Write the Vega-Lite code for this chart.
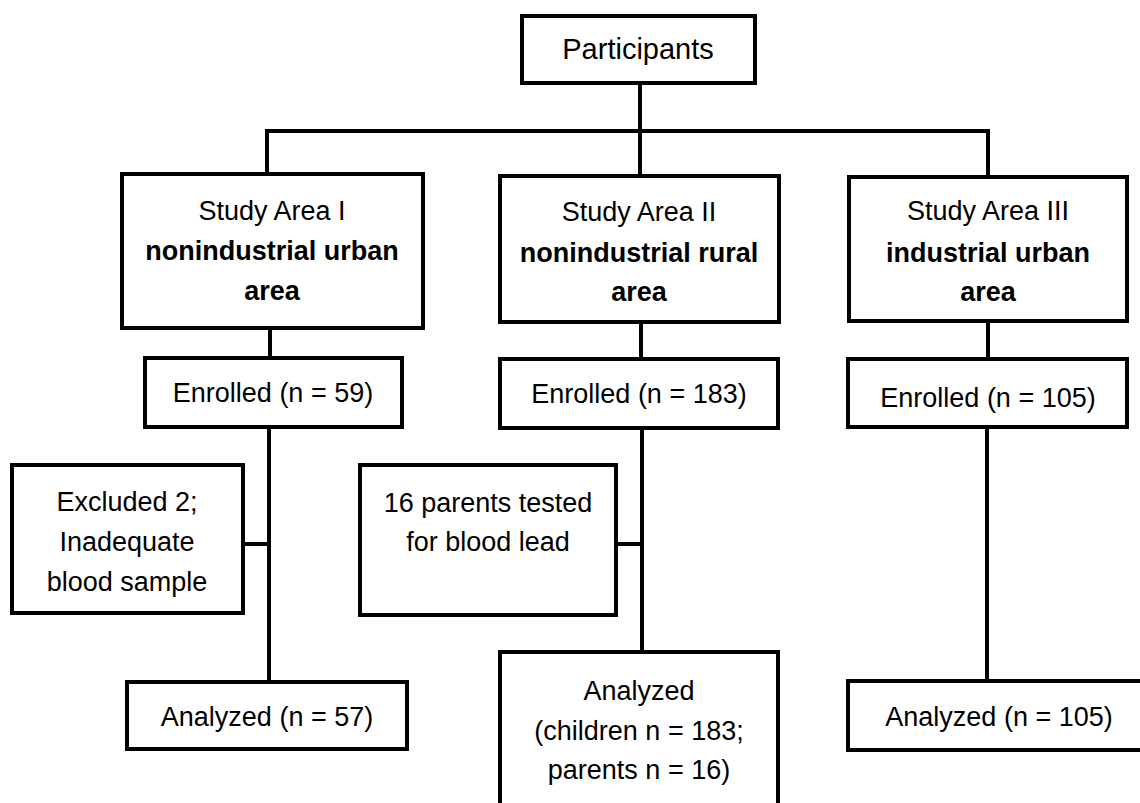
{
  "$schema": "https://vega.github.io/schema/vega-lite/v6.json",
  "width": 1140,
  "height": 803,
  "padding": 0,
  "autosize": {"type": "none"},
  "background": "white",
  "config": {"view": {"stroke": null}},
  "datasets": {
    "boxes": [
      {"name": "Participants", "x1": 522, "x2": 755, "y1": 16, "y2": 83},
      {"name": "Study I", "x1": 122, "x2": 423, "y1": 174, "y2": 328},
      {"name": "Study II", "x1": 500, "x2": 779, "y1": 176, "y2": 322},
      {"name": "Study III", "x1": 849, "x2": 1127, "y1": 177, "y2": 321},
      {"name": "Enrolled I", "x1": 145, "x2": 402, "y1": 358, "y2": 427},
      {"name": "Enrolled II", "x1": 500, "x2": 778, "y1": 359, "y2": 428},
      {"name": "Enrolled III", "x1": 848, "x2": 1127, "y1": 359, "y2": 427},
      {"name": "Excluded", "x1": 12, "x2": 243, "y1": 465, "y2": 613},
      {"name": "Parents", "x1": 360, "x2": 616, "y1": 465, "y2": 615},
      {"name": "Analyzed I", "x1": 127, "x2": 407, "y1": 682, "y2": 749},
      {"name": "Analyzed II", "x1": 500, "x2": 778, "y1": 652, "y2": 820},
      {"name": "Analyzed III", "x1": 848, "x2": 1150, "y1": 681, "y2": 750}
    ],
    "links": [
      {"x1": 640, "x2": 640, "y1": 83, "y2": 131},
      {"x1": 267, "x2": 988, "y1": 131, "y2": 131},
      {"x1": 267, "x2": 267, "y1": 131, "y2": 174},
      {"x1": 640, "x2": 640, "y1": 131, "y2": 176},
      {"x1": 988, "x2": 988, "y1": 131, "y2": 177},
      {"x1": 270, "x2": 270, "y1": 328, "y2": 358},
      {"x1": 269, "x2": 269, "y1": 427, "y2": 682},
      {"x1": 243, "x2": 269, "y1": 544, "y2": 544},
      {"x1": 641, "x2": 641, "y1": 322, "y2": 359},
      {"x1": 642, "x2": 642, "y1": 428, "y2": 652},
      {"x1": 616, "x2": 642, "y1": 544, "y2": 544},
      {"x1": 988, "x2": 988, "y1": 321, "y2": 359},
      {"x1": 987, "x2": 987, "y1": 427, "y2": 681}
    ],
    "labels": [
      {"label": "Participants", "x": 638, "y": 50, "bold": false, "big": true},
      {"label": "Study Area I", "x": 272, "y": 212, "bold": false, "big": false},
      {"label": "nonindustrial urban", "x": 272, "y": 252, "bold": true, "big": false},
      {"label": "area", "x": 272, "y": 292, "bold": true, "big": false},
      {"label": "Study Area II", "x": 639, "y": 213, "bold": false, "big": false},
      {"label": "nonindustrial rural", "x": 639, "y": 254, "bold": true, "big": false},
      {"label": "area", "x": 639, "y": 293, "bold": true, "big": false},
      {"label": "Study Area III", "x": 988, "y": 212, "bold": false, "big": false},
      {"label": "industrial urban", "x": 988, "y": 254, "bold": true, "big": false},
      {"label": "area", "x": 988, "y": 293, "bold": true, "big": false},
      {"label": "Enrolled (n = 59)", "x": 273, "y": 394, "bold": false, "big": false},
      {"label": "Enrolled (n = 183)", "x": 639, "y": 395, "bold": false, "big": false},
      {"label": "Enrolled (n = 105)", "x": 988, "y": 399, "bold": false, "big": false},
      {"label": "Excluded 2;", "x": 127, "y": 503, "bold": false, "big": false},
      {"label": "Inadequate", "x": 127, "y": 543, "bold": false, "big": false},
      {"label": "blood sample", "x": 127, "y": 583, "bold": false, "big": false},
      {"label": "16 parents tested", "x": 488, "y": 504, "bold": false, "big": false},
      {"label": "for blood lead", "x": 488, "y": 543, "bold": false, "big": false},
      {"label": "Analyzed (n = 57)", "x": 267, "y": 718, "bold": false, "big": false},
      {"label": "Analyzed", "x": 639, "y": 692, "bold": false, "big": false},
      {"label": "(children n = 183;", "x": 639, "y": 732, "bold": false, "big": false},
      {"label": "parents n = 16)", "x": 639, "y": 771, "bold": false, "big": false},
      {"label": "Analyzed (n = 105)", "x": 999, "y": 718, "bold": false, "big": false}
    ]
  },
  "layer": [
    {
      "data": {"name": "boxes"},
      "mark": {"type": "rect", "fill": "white", "stroke": "black", "strokeWidth": 4, "clip": true},
      "encoding": {
        "x": {"field": "x1", "type": "quantitative", "scale": {"domain": [0, 1140], "nice": false, "zero": false}, "axis": null},
        "x2": {"field": "x2"},
        "y": {"field": "y1", "type": "quantitative", "scale": {"domain": [0, 803], "nice": false, "zero": false, "reverse": true}, "axis": null},
        "y2": {"field": "y2"}
      }
    },
    {
      "data": {"name": "links"},
      "mark": {"type": "rule", "stroke": "black", "strokeWidth": 4, "strokeCap": "square"},
      "encoding": {
        "x": {"field": "x1", "type": "quantitative", "scale": {"domain": [0, 1140], "nice": false, "zero": false}, "axis": null},
        "x2": {"field": "x2"},
        "y": {"field": "y1", "type": "quantitative", "scale": {"domain": [0, 803], "nice": false, "zero": false, "reverse": true}, "axis": null},
        "y2": {"field": "y2"}
      }
    },
    {
      "data": {"name": "labels"},
      "transform": [{"filter": "!datum.bold && !datum.big"}],
      "mark": {"type": "text", "font": "Liberation Sans", "fontSize": 27, "align": "center", "baseline": "middle", "color": "black"},
      "encoding": {
        "x": {"field": "x", "type": "quantitative", "scale": {"domain": [0, 1140], "nice": false, "zero": false}, "axis": null},
        "y": {"field": "y", "type": "quantitative", "scale": {"domain": [0, 803], "nice": false, "zero": false, "reverse": true}, "axis": null},
        "text": {"field": "label"}
      }
    },
    {
      "data": {"name": "labels"},
      "transform": [{"filter": "datum.big"}],
      "mark": {"type": "text", "font": "Liberation Sans", "fontSize": 29, "align": "center", "baseline": "middle", "color": "black"},
      "encoding": {
        "x": {"field": "x", "type": "quantitative", "scale": {"domain": [0, 1140], "nice": false, "zero": false}, "axis": null},
        "y": {"field": "y", "type": "quantitative", "scale": {"domain": [0, 803], "nice": false, "zero": false, "reverse": true}, "axis": null},
        "text": {"field": "label"}
      }
    },
    {
      "data": {"name": "labels"},
      "transform": [{"filter": "datum.bold"}],
      "mark": {"type": "text", "font": "Liberation Sans", "fontSize": 27, "fontWeight": "bold", "align": "center", "baseline": "middle", "color": "black"},
      "encoding": {
        "x": {"field": "x", "type": "quantitative", "scale": {"domain": [0, 1140], "nice": false, "zero": false}, "axis": null},
        "y": {"field": "y", "type": "quantitative", "scale": {"domain": [0, 803], "nice": false, "zero": false, "reverse": true}, "axis": null},
        "text": {"field": "label"}
      }
    }
  ]
}
